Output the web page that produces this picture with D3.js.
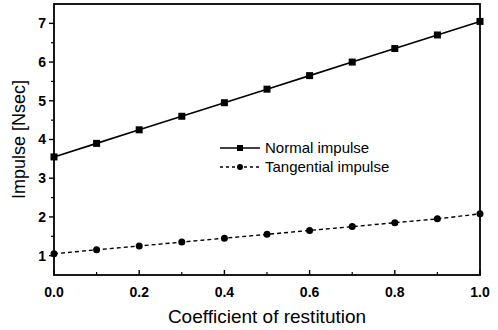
<!DOCTYPE html>
<html>
<head>
<meta charset="utf-8">
<script src="https://cdn.jsdelivr.net/npm/d3@7"></script>
<style>
  body { margin: 0; background: #fff; }
  svg { display: block; }
</style>
</head>
<body>
<svg id="chart"></svg>
<script>
// coefficient of restitution
var coef = [0.0, 0.1, 0.2, 0.3, 0.4, 0.5, 0.6, 0.7, 0.8, 0.9, 1.0];

// impulse values
var normalImpulse = [3.55, 3.9, 4.25, 4.6, 4.95, 5.3, 5.65, 6.0, 6.35, 6.7, 7.05];
var tangentialImpulse = [1.05, 1.15, 1.25, 1.35, 1.45, 1.55, 1.65, 1.75, 1.85, 1.95, 2.08];

var xTicks = [0.0, 0.2, 0.4, 0.6, 0.8, 1.0];
var xMinor = [0.1, 0.3, 0.5, 0.7, 0.9];
var yTicks = [1, 2, 3, 4, 5, 6, 7];
var yMinor = [1.5, 2.5, 3.5, 4.5, 5.5, 6.5];

var seriesNames = ["Normal impulse", "Tangential impulse"];

var width = 498, height = 330;
var margin = {left: 54, right: 18, top: 4, bottom: 55};

var svg = d3.select("#chart")
    .attr("width", width)
    .attr("height", height);

var x = d3.scaleLinear()
    .domain([0, 1])
    .range([margin.left, width - margin.right]);

var y = d3.scaleLinear()
    .domain([0.5, 7.5])
    .range([height - margin.bottom, margin.top]);

var font = "Liberation Sans, Arial, sans-serif";

// lines
var line = d3.line()
    .x(function(d, i) { return x(coef[i]); })
    .y(function(d) { return y(d); });

svg.append("path")
    .datum(normalImpulse)
    .attr("d", line)
    .attr("fill", "none")
    .attr("stroke", "#000")
    .attr("stroke-width", 1.6);

svg.append("path")
    .datum(tangentialImpulse)
    .attr("d", line)
    .attr("fill", "none")
    .attr("stroke", "#000")
    .attr("stroke-width", 1.4)
    .attr("stroke-dasharray", "4,3");

// markers
svg.selectAll()
    .data(normalImpulse)
    .enter()
    .append("rect")
    .attr("x", function(d, i) { return x(coef[i]) - 3.5; })
    .attr("y", function(d) { return y(d) - 3.5; })
    .attr("width", 7)
    .attr("height", 7)
    .attr("fill", "#000");

svg.selectAll()
    .data(tangentialImpulse)
    .enter()
    .append("circle")
    .attr("cx", function(d, i) { return x(coef[i]); })
    .attr("cy", function(d) { return y(d); })
    .attr("r", 3.5)
    .attr("fill", "#000");

// frame
svg.append("rect")
    .attr("x", x(0))
    .attr("y", y(7.5))
    .attr("width", x(1) - x(0))
    .attr("height", y(0.5) - y(7.5))
    .attr("fill", "none")
    .attr("stroke", "#000")
    .attr("stroke-width", 1.8);

// x axis (ticks inside)
var xAxis = svg.append("g")
    .attr("transform", "translate(0," + y(0.5) + ")");

xAxis.selectAll()
    .data(xTicks)
    .enter()
    .append("line")
    .attr("x1", function(d) { return x(d); })
    .attr("x2", function(d) { return x(d); })
    .attr("y1", 0)
    .attr("y2", -5)
    .attr("stroke", "#000")
    .attr("stroke-width", 1.4);

xAxis.selectAll()
    .data(xMinor)
    .enter()
    .append("line")
    .attr("x1", function(d) { return x(d); })
    .attr("x2", function(d) { return x(d); })
    .attr("y1", 0)
    .attr("y2", -3)
    .attr("stroke", "#000")
    .attr("stroke-width", 1.2);

xAxis.selectAll()
    .data(xTicks)
    .enter()
    .append("text")
    .attr("x", function(d) { return x(d); })
    .attr("y", 22)
    .attr("text-anchor", "middle")
    .attr("font-family", font)
    .attr("font-size", "14px")
    .attr("font-weight", "bold")
    .text(function(d) { return d3.format(".1f")(d); });

// y axis (ticks outside)
var yAxis = svg.append("g")
    .attr("transform", "translate(" + x(0) + ",0)");

yAxis.selectAll()
    .data(yTicks)
    .enter()
    .append("line")
    .attr("x1", 0)
    .attr("x2", -5)
    .attr("y1", function(d) { return y(d); })
    .attr("y2", function(d) { return y(d); })
    .attr("stroke", "#000")
    .attr("stroke-width", 1.4);

yAxis.selectAll()
    .data(yMinor)
    .enter()
    .append("line")
    .attr("x1", 0)
    .attr("x2", -3)
    .attr("y1", function(d) { return y(d); })
    .attr("y2", function(d) { return y(d); })
    .attr("stroke", "#000")
    .attr("stroke-width", 1.2);

yAxis.selectAll()
    .data(yTicks)
    .enter()
    .append("text")
    .attr("x", -8)
    .attr("y", function(d) { return y(d); })
    .attr("dy", "0.35em")
    .attr("text-anchor", "end")
    .attr("font-family", font)
    .attr("font-size", "14px")
    .attr("font-weight", "bold")
    .text(function(d) { return d; });

// axis titles
svg.append("text")
    .attr("x", (x(0) + x(1)) / 2)
    .attr("y", 323)
    .attr("text-anchor", "middle")
    .attr("font-family", font)
    .attr("font-size", "19px")
    .text("Coefficient of restitution");

svg.append("text")
    .attr("transform", "translate(25," + (y(0.5) + y(7.5)) / 2 + ") rotate(-90)")
    .attr("text-anchor", "middle")
    .attr("font-family", font)
    .attr("font-size", "18px")
    .text("Impulse [Nsec]");

// legend
var legend = svg.append("g");
var legendY = [148, 167];

legend.append("line")
    .attr("x1", 220).attr("x2", 260)
    .attr("y1", legendY[0]).attr("y2", legendY[0])
    .attr("stroke", "#000")
    .attr("stroke-width", 1.6);

legend.append("rect")
    .attr("x", 240 - 3).attr("y", legendY[0] - 3)
    .attr("width", 6).attr("height", 6)
    .attr("fill", "#000");

legend.append("line")
    .attr("x1", 220).attr("x2", 262)
    .attr("y1", legendY[1]).attr("y2", legendY[1])
    .attr("stroke", "#000")
    .attr("stroke-width", 1.4)
    .attr("stroke-dasharray", "3,3");

legend.append("circle")
    .attr("cx", 240).attr("cy", legendY[1])
    .attr("r", 3)
    .attr("fill", "#000");

legend.selectAll()
    .data(seriesNames)
    .enter()
    .append("text")
    .attr("x", 265)
    .attr("y", function(d, i) { return legendY[i]; })
    .attr("dy", "0.35em")
    .attr("font-family", font)
    .attr("font-size", "15px")
    .text(function(d) { return d; });
</script>
</body>
</html>
